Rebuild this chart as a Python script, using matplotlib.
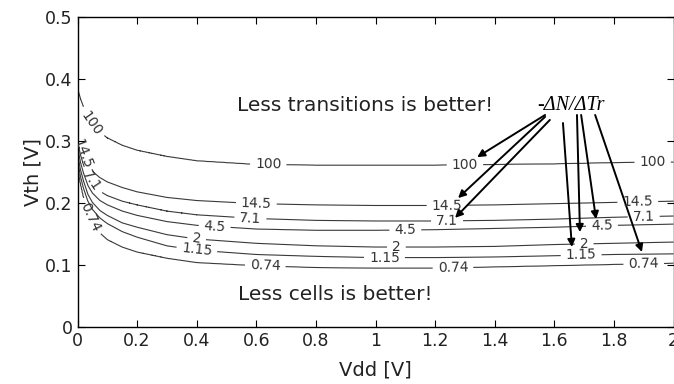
import numpy as np
import matplotlib
matplotlib.use('Agg')
import matplotlib.pyplot as plt

plt.rcParams['font.family'] = ['DejaVu Sans']

# contour levels (-dN/dTr) and the Vth position of each level line
levels = [0.74, 1.15, 2, 4.5, 7.1, 14.5, 100]
vdd = [0, 0.01, 0.02, 0.035, 0.05, 0.075, 0.1, 0.15, 0.2, 0.3, 0.4, 0.6, 0.8, 1.0, 1.2, 1.4, 1.6, 1.8, 2.0]
vth_074 = [.26, .232, .21, .185, .168, .152, .141, .129, .121, .111, .104, .099, .096, .095, .095, .097, .099, .101, .103]
vth_115 = [.27, .243, .224, .203, .190, .176, .167, .154, .145, .131, .124, .117, .114, .112, .112, .113, .115, .117, .118]
vth_2 = [.28, .254, .236, .214, .201, .188, .180, .168, .161, .149, .142, .135, .131, .129, .129, .130, .133, .135, .137]
vth_45 = [.29, .265, .248, .228, .216, .204, .197, .187, .180, .170, .164, .158, .156, .156, .157, .159, .161, .164, .166]
vth_71 = [.30, .278, .262, .243, .231, .219, .212, .203, .197, .187, .181, .175, .172, .171, .171, .172, .174, .177, .179]
vth_145 = [.31, .29, .277, .261, .251, .241, .234, .225, .218, .209, .204, .199, .197, .196, .196, .197, .199, .201, .203]
vth_100 = [.385, .368, .355, .338, .326, .314, .305, .293, .285, .275, .268, .262, .261, .261, .261, .262, .263, .265, .266]
curves = [vth_074, vth_115, vth_2, vth_45, vth_71, vth_145, vth_100]

# where the contour labels sit
label_pos = [(0.05, 0.33), (0.64, 0.262), (1.30, 0.261), (1.93, 0.265),
             (0.02, 0.28), (0.60, 0.199), (1.24, 0.196), (1.88, 0.202),
             (0.045, 0.235), (0.58, 0.175), (1.24, 0.171), (1.90, 0.178),
             (0.46, 0.161), (1.10, 0.156), (1.76, 0.161),
             (0.40, 0.143), (1.07, 0.129), (1.70, 0.134),
             (0.40, 0.123), (1.03, 0.112), (1.69, 0.115),
             (0.03, 0.175), (0.63, 0.099), (1.26, 0.095), (1.90, 0.102)]

# arrows from the -dN/dTr note: (start, end)
arrow_start = [(1.569, 0.342), (1.569, 0.339), (1.585, 0.334), (1.629, 0.329),
               (1.676, 0.342), (1.690, 0.342), (1.737, 0.342)]
arrow_end = [(1.341, 0.274), (1.277, 0.208), (1.267, 0.176), (1.659, 0.129),
             (1.686, 0.153), (1.740, 0.174), (1.894, 0.121)]

# build a field whose level lines pass through the read curves
xg = np.linspace(0, 2, 801)
yg = np.linspace(0, 0.5, 501)
Z = np.zeros((len(yg), len(xg)))
loglev = np.log(np.array([0.2] + levels + [1000.0]))
for j, x in enumerate(xg):
    yk = [np.interp(x, vdd, c) for c in curves]
    Z[:, j] = np.exp(np.interp(yg, [0.0] + yk + [0.5], loglev))

fig = plt.figure(figsize=(6.74, 3.84), dpi=100)
ax = fig.add_axes([0.115, 0.1484, 0.8843, 0.8073])

cs = ax.contour(xg, yg, Z, levels=levels, colors='#3a3a3a', linewidths=0.8)
ax.clabel(cs, manual=label_pos, inline=True, fmt='%g', fontsize=10, colors='#333333')

ax.text(0.535, 0.358, 'Less transitions is better!', fontsize=14.5, color='#222222', va='center')
ax.text(0.54, 0.052, 'Less cells is better!', fontsize=14.5, color='#222222', va='center')
ax.text(1.656, 0.358, '-ΔN/ΔTr', fontsize=14.5, family='Liberation Serif',
        style='italic', ha='center', va='center')
for s, e in zip(arrow_start, arrow_end):
    ax.annotate('', xy=e, xytext=s,
                arrowprops=dict(arrowstyle='-|>', color='k', lw=1.4, mutation_scale=11,
                                shrinkA=0, shrinkB=0))

ax.set_xlim(0, 2)
ax.set_ylim(0, 0.5)
ax.set_xticks(np.arange(0, 2.01, 0.2))
ax.set_xticklabels(['0', '0.2', '0.4', '0.6', '0.8', '1', '1.2', '1.4', '1.6', '1.8', '2'])
ax.set_yticks([0, 0.1, 0.2, 0.3, 0.4, 0.5])
ax.set_yticklabels(['0', '0.1', '0.2', '0.3', '0.4', '0.5'])
ax.tick_params(direction='in', length=5, top=True, right=True, labelsize=12.5, labelcolor='#222222')
ax.set_xlabel('Vdd [V]', fontsize=14, color='#222222', labelpad=8)
ax.set_ylabel('Vth [V]', fontsize=14, color='#222222', labelpad=2)
for sp in ax.spines.values():
    sp.set_linewidth(1.0)

fig.savefig('out.png', dpi=100)
